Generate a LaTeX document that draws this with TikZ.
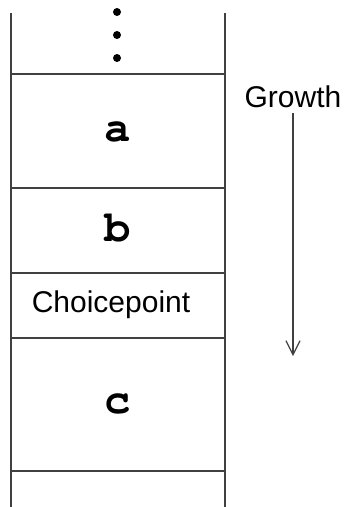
\documentclass[tikz,border=0pt]{standalone}
\usepackage[T1]{fontenc}
\usepackage{fontspec}
\setmainfont{Liberation Sans}
\newcommand\codefont{\fontencoding{T1}\fontfamily{pcr}\fontseries{b}\selectfont}
\usetikzlibrary{arrows.meta}
\begin{document}
\begin{tikzpicture}[x=1pt,y=-1pt,line width=1.2pt,
  every node/.style={inner sep=0pt},
  rule/.style={draw=black!75},
  word/.style={font=\fontsize{30}{36}\selectfont},
  var/.style={font=\codefont\fontsize{44}{52}\selectfont}]
  \useasboundingbox (0,0) rectangle (346,507);
  % stack walls and frame borders
  \draw[rule] (11,13) -- (11,507);
  \draw[rule] (225,13) -- (225,507);
  \foreach \y in {74,188,273,338,471}
    \draw[rule] (11,\y) -- (225,\y);
  % more frames above
  \foreach \y in {12,35,58}
    \fill (117,\y) circle[radius=4pt];
  \node[var] (a) at (118,132) {a};
  \node[var] (b) at (118,228) {b};
  \node[word] (cp) at (111,305) {Choicepoint};
  \node[var] (c) at (118,404) {c};
  % growth direction
  \node[word] (growth) at (293,97) {Growth};
  \coordinate (gend) at (293,356);
  \draw[black!75,-{Straight Barb[length=14pt,width=14pt]}] (293,113) -- (gend);
\end{tikzpicture}
\end{document}
